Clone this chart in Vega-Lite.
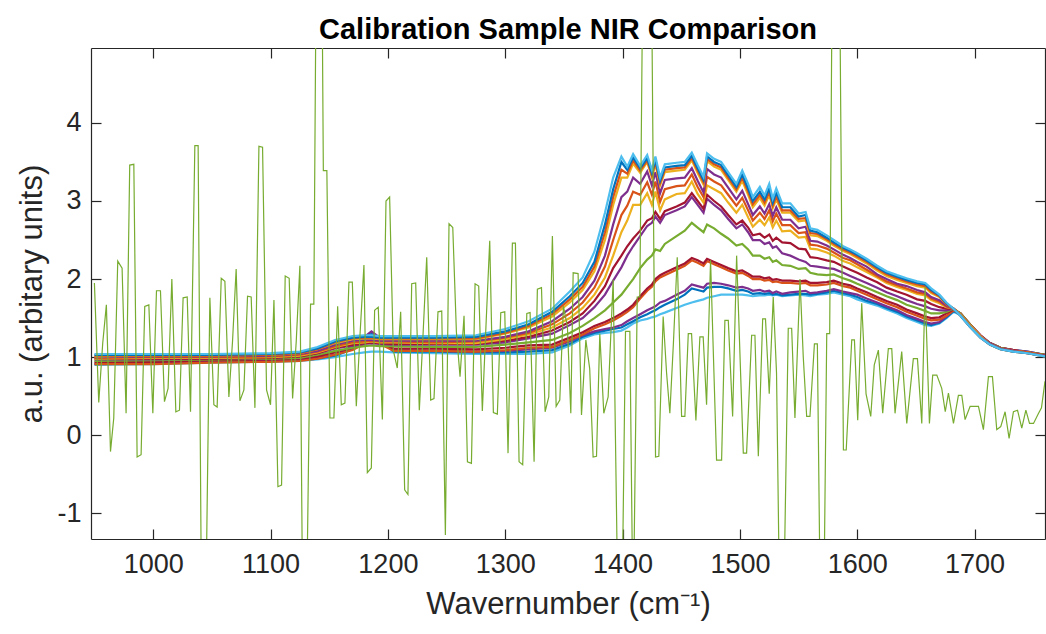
{
  "$schema": "https://vega.github.io/schema/vega-lite/v6.json",
  "width": 954,
  "height": 491,
  "autosize": {"type": "none"},
  "padding": {"left": 91, "top": 48, "right": 1, "bottom": 95},
  "background": "white",
  "config": {"view": {"stroke": null}, "font": "Liberation Sans"},
  "title": {"text": "Calibration Sample NIR Comparison", "fontSize": 29, "fontWeight": "bold", "font": "Liberation Sans", "color": "#000000", "anchor": "middle", "baseline": "alphabetic", "offset": 10, "dy": 31},
  "datasets": {
    "spec": [
      {"x":950,"T":1.04,"T2":1.03,"X1":1.02,"T3":1.01,"C":1.0,"C2":0.99,"D":0.98,"X2":0.98,"E":0.97,"F":0.95,"G":0.94,"X3":0.91,"H":0.92,"H2":0.91,"I":0.9},
      {"x":1000,"T":1.04,"T2":1.03,"X1":1.02,"T3":1.02,"C":1.01,"C2":1.0,"D":0.99,"X2":0.98,"E":0.97,"F":0.96,"G":0.94,"X3":0.91,"H":0.93,"H2":0.92,"I":0.91},
      {"x":1050,"T":1.04,"T2":1.03,"X1":1.02,"T3":1.02,"C":1.01,"C2":1.0,"D":0.99,"X2":0.98,"E":0.98,"F":0.97,"G":0.96,"X3":0.93,"H":0.95,"H2":0.94,"I":0.93},
      {"x":1100,"T":1.05,"T2":1.04,"X1":1.03,"T3":1.03,"C":1.02,"C2":1.01,"D":1.0,"X2":0.99,"E":0.99,"F":0.98,"G":0.97,"X3":0.94,"H":0.96,"H2":0.95,"I":0.94},
      {"x":1125,"T":1.07,"T2":1.06,"X1":1.05,"T3":1.05,"C":1.04,"C2":1.03,"D":1.02,"X2":1.01,"E":1.01,"F":0.99,"G":0.98,"X3":0.95,"H":0.97,"H2":0.96,"I":0.95},
      {"x":1140,"T":1.13,"T2":1.11,"X1":1.1,"T3":1.1,"C":1.08,"C2":1.07,"D":1.06,"X2":1.05,"E":1.05,"F":1.03,"G":1.01,"X3":0.98,"H":0.99,"H2":0.98,"I":0.97},
      {"x":1155,"T":1.22,"T2":1.2,"X1":1.19,"T3":1.18,"C":1.16,"C2":1.14,"D":1.13,"X2":1.12,"E":1.11,"F":1.08,"G":1.06,"X3":1.03,"H":1.03,"H2":1.02,"I":1.0},
      {"x":1170,"T":1.27,"T2":1.25,"X1":1.24,"T3":1.23,"C":1.21,"C2":1.19,"D":1.18,"X2":1.16,"E":1.15,"F":1.12,"G":1.12,"X3":1.09,"H":1.14,"H2":1.1,"I":1.04},
      {"x":1180,"T":1.28,"T2":1.26,"X1":1.25,"T3":1.24,"C":1.22,"C2":1.2,"D":1.19,"X2":1.18,"E":1.17,"F":1.14,"G":1.2,"X3":1.17,"H":1.26,"H2":1.22,"I":1.06},
      {"x":1186,"T":1.28,"T2":1.26,"X1":1.25,"T3":1.24,"C":1.22,"C2":1.21,"D":1.2,"X2":1.19,"E":1.18,"F":1.15,"G":1.27,"X3":1.24,"H":1.33,"H2":1.3,"I":1.07},
      {"x":1193,"T":1.27,"T2":1.25,"X1":1.24,"T3":1.23,"C":1.21,"C2":1.2,"D":1.19,"X2":1.18,"E":1.17,"F":1.14,"G":1.2,"X3":1.17,"H":1.25,"H2":1.22,"I":1.07},
      {"x":1205,"T":1.27,"T2":1.25,"X1":1.24,"T3":1.23,"C":1.21,"C2":1.2,"D":1.19,"X2":1.17,"E":1.16,"F":1.14,"G":1.11,"X3":1.08,"H":1.09,"H2":1.07,"I":1.06},
      {"x":1240,"T":1.27,"T2":1.25,"X1":1.24,"T3":1.23,"C":1.21,"C2":1.19,"D":1.18,"X2":1.17,"E":1.16,"F":1.13,"G":1.11,"X3":1.08,"H":1.08,"H2":1.07,"I":1.05},
      {"x":1275,"T":1.28,"T2":1.26,"X1":1.24,"T3":1.23,"C":1.21,"C2":1.2,"D":1.18,"X2":1.17,"E":1.16,"F":1.13,"G":1.1,"X3":1.07,"H":1.07,"H2":1.06,"I":1.04},
      {"x":1300,"T":1.36,"T2":1.33,"X1":1.31,"T3":1.3,"C":1.26,"C2":1.25,"D":1.23,"X2":1.21,"E":1.19,"F":1.16,"G":1.12,"X3":1.09,"H":1.08,"H2":1.06,"I":1.04},
      {"x":1320,"T":1.46,"T2":1.42,"X1":1.4,"T3":1.38,"C":1.33,"C2":1.31,"D":1.29,"X2":1.26,"E":1.24,"F":1.19,"G":1.15,"X3":1.12,"H":1.1,"H2":1.07,"I":1.04},
      {"x":1340,"T":1.62,"T2":1.58,"X1":1.55,"T3":1.52,"C":1.46,"C2":1.42,"D":1.38,"X2":1.34,"E":1.3,"F":1.22,"G":1.16,"X3":1.13,"H":1.12,"H2":1.09,"I":1.06},
      {"x":1355,"T":1.84,"T2":1.78,"X1":1.74,"T3":1.7,"C":1.62,"C2":1.56,"D":1.5,"X2":1.45,"E":1.41,"F":1.31,"G":1.25,"X3":1.22,"H":1.2,"H2":1.17,"I":1.15},
      {"x":1366,"T":2.02,"T2":1.95,"X1":1.9,"T3":1.86,"C":1.77,"C2":1.7,"D":1.63,"X2":1.56,"E":1.5,"F":1.4,"G":1.32,"X3":1.29,"H":1.28,"H2":1.26,"I":1.24},
      {"x":1376,"T":2.35,"T2":2.22,"X1":2.16,"T3":2.1,"C":1.98,"C2":1.89,"D":1.8,"X2":1.72,"E":1.64,"F":1.5,"G":1.4,"X3":1.37,"H":1.33,"H2":1.31,"I":1.29},
      {"x":1385,"T":2.85,"T2":2.7,"X1":2.6,"T3":2.5,"C":2.3,"C2":2.16,"D":2.02,"X2":1.91,"E":1.8,"F":1.6,"G":1.45,"X3":1.42,"H":1.36,"H2":1.34,"I":1.31},
      {"x":1392,"T":3.3,"T2":3.15,"X1":3.05,"T3":2.95,"C":2.7,"C2":2.5,"D":2.3,"X2":2.14,"E":1.98,"F":1.7,"G":1.5,"X3":1.47,"H":1.38,"H2":1.36,"I":1.32},
      {"x":1399,"T":3.57,"T2":3.5,"X1":3.4,"T3":3.3,"C":3.05,"C2":2.82,"D":2.6,"X2":2.3,"E":2.15,"F":1.8,"G":1.56,"X3":1.53,"H":1.41,"H2":1.38,"I":1.34},
      {"x":1404,"T":3.44,"T2":3.4,"X1":3.35,"T3":3.3,"C":3.12,"C2":2.94,"D":2.75,"X2":2.42,"E":2.3,"F":1.9,"G":1.61,"X3":1.58,"H":1.46,"H2":1.42,"I":1.38},
      {"x":1409,"T":3.6,"T2":3.56,"X1":3.52,"T3":3.48,"C":3.3,"C2":3.12,"D":2.95,"X2":2.52,"E":2.42,"F":2.0,"G":1.67,"X3":1.64,"H":1.5,"H2":1.46,"I":1.43},
      {"x":1415,"T":3.45,"T2":3.42,"X1":3.39,"T3":3.36,"C":3.22,"C2":3.08,"D":2.95,"X2":2.62,"E":2.55,"F":2.14,"G":1.78,"X3":1.75,"H":1.55,"H2":1.51,"I":1.47},
      {"x":1421,"T":3.59,"T2":3.55,"X1":3.52,"T3":3.5,"C":3.38,"C2":3.24,"D":3.1,"X2":2.75,"E":2.68,"F":2.25,"G":1.88,"X3":1.85,"H":1.6,"H2":1.55,"I":1.49},
      {"x":1425,"T":3.4,"T2":3.36,"X1":3.33,"T3":3.3,"C":3.2,"C2":3.08,"D":2.95,"X2":2.78,"E":2.72,"F":2.3,"G":1.93,"X3":1.9,"H":1.63,"H2":1.58,"I":1.51},
      {"x":1428,"T":3.57,"T2":3.53,"X1":3.5,"T3":3.47,"C":3.37,"C2":3.25,"D":3.12,"X2":2.86,"E":2.8,"F":2.38,"G":2.0,"X3":1.97,"H":1.65,"H2":1.6,"I":1.52},
      {"x":1432,"T":3.3,"T2":3.26,"X1":3.23,"T3":3.2,"C":3.1,"C2":2.99,"D":2.88,"X2":2.77,"E":2.72,"F":2.36,"G":2.05,"X3":2.02,"H":1.7,"H2":1.64,"I":1.55},
      {"x":1436,"T":3.47,"T2":3.43,"X1":3.4,"T3":3.37,"C":3.27,"C2":3.15,"D":3.02,"X2":2.87,"E":2.82,"F":2.45,"G":2.08,"X3":2.05,"H":1.72,"H2":1.67,"I":1.57},
      {"x":1446,"T":3.49,"T2":3.45,"X1":3.42,"T3":3.39,"C":3.29,"C2":3.19,"D":3.09,"X2":2.93,"E":2.88,"F":2.55,"G":2.15,"X3":2.12,"H":1.8,"H2":1.74,"I":1.63},
      {"x":1453,"T":3.5,"T2":3.46,"X1":3.43,"T3":3.4,"C":3.3,"C2":3.2,"D":3.1,"X2":2.98,"E":2.93,"F":2.62,"G":2.2,"X3":2.17,"H":1.85,"H2":1.8,"I":1.67},
      {"x":1459,"T":3.62,"T2":3.58,"X1":3.55,"T3":3.52,"C":3.42,"C2":3.34,"D":3.25,"X2":3.1,"E":3.05,"F":2.72,"G":2.27,"X3":2.24,"H":1.93,"H2":1.88,"I":1.7},
      {"x":1464,"T":3.46,"T2":3.42,"X1":3.39,"T3":3.36,"C":3.26,"C2":3.18,"D":3.09,"X2":3.0,"E":2.95,"F":2.66,"G":2.24,"X3":2.21,"H":1.91,"H2":1.86,"I":1.72},
      {"x":1469,"T":3.31,"T2":3.27,"X1":3.24,"T3":3.21,"C":3.11,"C2":3.05,"D":2.98,"X2":2.9,"E":2.85,"F":2.6,"G":2.2,"X3":2.17,"H":1.89,"H2":1.84,"I":1.74},
      {"x":1472,"T":3.61,"T2":3.57,"X1":3.54,"T3":3.51,"C":3.41,"C2":3.31,"D":3.2,"X2":3.08,"E":3.03,"F":2.7,"G":2.26,"X3":2.23,"H":1.94,"H2":1.89,"I":1.76},
      {"x":1478,"T":3.54,"T2":3.5,"X1":3.47,"T3":3.44,"C":3.34,"C2":3.25,"D":3.15,"X2":3.0,"E":2.95,"F":2.65,"G":2.22,"X3":2.19,"H":1.95,"H2":1.9,"I":1.78},
      {"x":1484,"T":3.5,"T2":3.46,"X1":3.43,"T3":3.4,"C":3.3,"C2":3.2,"D":3.1,"X2":2.93,"E":2.88,"F":2.58,"G":2.18,"X3":2.15,"H":1.94,"H2":1.9,"I":1.8},
      {"x":1490,"T":3.37,"T2":3.33,"X1":3.3,"T3":3.27,"C":3.17,"C2":3.08,"D":2.98,"X2":2.82,"E":2.77,"F":2.52,"G":2.14,"X3":2.11,"H":1.92,"H2":1.88,"I":1.8},
      {"x":1497,"T":3.22,"T2":3.18,"X1":3.15,"T3":3.12,"C":3.02,"C2":2.94,"D":2.85,"X2":2.7,"E":2.65,"F":2.43,"G":2.1,"X3":2.07,"H":1.89,"H2":1.85,"I":1.8},
      {"x":1502,"T":3.39,"T2":3.34,"X1":3.3,"T3":3.26,"C":3.13,"C2":3.04,"D":2.95,"X2":2.75,"E":2.7,"F":2.45,"G":2.11,"X3":2.08,"H":1.9,"H2":1.86,"I":1.8},
      {"x":1507,"T":3.22,"T2":3.16,"X1":3.12,"T3":3.08,"C":2.96,"C2":2.88,"D":2.79,"X2":2.66,"E":2.6,"F":2.38,"G":2.07,"X3":2.04,"H":1.88,"H2":1.84,"I":1.79},
      {"x":1511,"T":3.05,"T2":3.0,"X1":2.96,"T3":2.92,"C":2.82,"C2":2.75,"D":2.67,"X2":2.56,"E":2.5,"F":2.3,"G":2.03,"X3":2.0,"H":1.85,"H2":1.81,"I":1.78},
      {"x":1517,"T":3.18,"T2":3.12,"X1":3.08,"T3":3.04,"C":2.93,"C2":2.85,"D":2.76,"X2":2.58,"E":2.5,"F":2.3,"G":2.03,"X3":2.0,"H":1.86,"H2":1.82,"I":1.79},
      {"x":1521,"T":3.07,"T2":3.02,"X1":2.98,"T3":2.94,"C":2.84,"C2":2.77,"D":2.69,"X2":2.53,"E":2.45,"F":2.26,"G":2.01,"X3":1.98,"H":1.84,"H2":1.81,"I":1.79},
      {"x":1525,"T":3.22,"T2":3.16,"X1":3.12,"T3":3.08,"C":2.96,"C2":2.88,"D":2.79,"X2":2.57,"E":2.47,"F":2.28,"G":2.02,"X3":1.99,"H":1.85,"H2":1.82,"I":1.8},
      {"x":1528,"T":3.03,"T2":2.98,"X1":2.94,"T3":2.91,"C":2.81,"C2":2.74,"D":2.66,"X2":2.49,"E":2.4,"F":2.22,"G":1.99,"X3":1.96,"H":1.82,"H2":1.8,"I":1.79},
      {"x":1531,"T":3.16,"T2":3.11,"X1":3.06,"T3":3.02,"C":2.92,"C2":2.84,"D":2.75,"X2":2.53,"E":2.42,"F":2.24,"G":2.0,"X3":1.97,"H":1.84,"H2":1.81,"I":1.8},
      {"x":1536,"T":2.97,"T2":2.92,"X1":2.88,"T3":2.85,"C":2.76,"C2":2.69,"D":2.61,"X2":2.47,"E":2.33,"F":2.18,"G":1.98,"X3":1.95,"H":1.81,"H2":1.79,"I":1.78},
      {"x":1543,"T":2.97,"T2":2.92,"X1":2.88,"T3":2.85,"C":2.76,"C2":2.69,"D":2.62,"X2":2.46,"E":2.3,"F":2.17,"G":1.98,"X3":1.95,"H":1.83,"H2":1.8,"I":1.79},
      {"x":1550,"T":2.84,"T2":2.8,"X1":2.77,"T3":2.74,"C":2.65,"C2":2.59,"D":2.53,"X2":2.39,"E":2.25,"F":2.13,"G":1.97,"X3":1.94,"H":1.84,"H2":1.81,"I":1.8},
      {"x":1556,"T":2.86,"T2":2.82,"X1":2.78,"T3":2.75,"C":2.67,"C2":2.6,"D":2.54,"X2":2.38,"E":2.22,"F":2.14,"G":1.98,"X3":1.95,"H":1.85,"H2":1.81,"I":1.79},
      {"x":1560,"T":2.65,"T2":2.62,"X1":2.59,"T3":2.56,"C":2.49,"C2":2.44,"D":2.39,"X2":2.28,"E":2.17,"F":2.08,"G":1.95,"X3":1.92,"H":1.82,"H2":1.8,"I":1.78},
      {"x":1566,"T":2.63,"T2":2.6,"X1":2.58,"T3":2.55,"C":2.48,"C2":2.43,"D":2.38,"X2":2.27,"E":2.16,"F":2.06,"G":1.95,"X3":1.92,"H":1.83,"H2":1.81,"I":1.8},
      {"x":1574,"T":2.56,"T2":2.53,"X1":2.51,"T3":2.49,"C":2.43,"C2":2.39,"D":2.34,"X2":2.24,"E":2.14,"F":2.05,"G":1.96,"X3":1.93,"H":1.85,"H2":1.83,"I":1.81},
      {"x":1580,"T":2.5,"T2":2.47,"X1":2.45,"T3":2.43,"C":2.38,"C2":2.34,"D":2.3,"X2":2.22,"E":2.13,"F":2.06,"G":1.98,"X3":1.95,"H":1.87,"H2":1.85,"I":1.83},
      {"x":1588,"T":2.42,"T2":2.4,"X1":2.38,"T3":2.36,"C":2.31,"C2":2.27,"D":2.23,"X2":2.16,"E":2.08,"F":2.01,"G":1.94,"X3":1.91,"H":1.84,"H2":1.82,"I":1.8},
      {"x":1594,"T":2.38,"T2":2.36,"X1":2.34,"T3":2.32,"C":2.27,"C2":2.24,"D":2.2,"X2":2.12,"E":2.04,"F":1.98,"G":1.92,"X3":1.89,"H":1.82,"H2":1.8,"I":1.78},
      {"x":1600,"T":2.33,"T2":2.31,"X1":2.29,"T3":2.27,"C":2.22,"C2":2.19,"D":2.15,"X2":2.08,"E":2.0,"F":1.94,"G":1.88,"X3":1.85,"H":1.8,"H2":1.77,"I":1.74},
      {"x":1608,"T":2.26,"T2":2.24,"X1":2.22,"T3":2.2,"C":2.16,"C2":2.12,"D":2.09,"X2":2.02,"E":1.95,"F":1.89,"G":1.83,"X3":1.8,"H":1.75,"H2":1.72,"I":1.7},
      {"x":1617,"T":2.17,"T2":2.15,"X1":2.13,"T3":2.11,"C":2.06,"C2":2.04,"D":2.02,"X2":1.96,"E":1.89,"F":1.83,"G":1.77,"X3":1.74,"H":1.7,"H2":1.68,"I":1.66},
      {"x":1625,"T":2.1,"T2":2.08,"X1":2.06,"T3":2.04,"C":2.0,"C2":1.97,"D":1.95,"X2":1.89,"E":1.83,"F":1.78,"G":1.72,"X3":1.69,"H":1.65,"H2":1.63,"I":1.61},
      {"x":1634,"T":2.05,"T2":2.03,"X1":2.01,"T3":1.99,"C":1.94,"C2":1.92,"D":1.9,"X2":1.84,"E":1.78,"F":1.73,"G":1.67,"X3":1.64,"H":1.6,"H2":1.58,"I":1.56},
      {"x":1642,"T":2.01,"T2":1.99,"X1":1.97,"T3":1.95,"C":1.91,"C2":1.88,"D":1.86,"X2":1.8,"E":1.73,"F":1.67,"G":1.61,"X3":1.58,"H":1.54,"H2":1.52,"I":1.5},
      {"x":1651,"T":1.97,"T2":1.95,"X1":1.93,"T3":1.91,"C":1.86,"C2":1.83,"D":1.81,"X2":1.74,"E":1.68,"F":1.63,"G":1.56,"X3":1.53,"H":1.49,"H2":1.47,"I":1.45},
      {"x":1658,"T":1.95,"T2":1.93,"X1":1.91,"T3":1.89,"C":1.83,"C2":1.81,"D":1.79,"X2":1.72,"E":1.65,"F":1.59,"G":1.52,"X3":1.49,"H":1.45,"H2":1.43,"I":1.41},
      {"x":1663,"T":1.88,"T2":1.86,"X1":1.84,"T3":1.82,"C":1.77,"C2":1.75,"D":1.73,"X2":1.68,"E":1.62,"F":1.56,"G":1.5,"X3":1.47,"H":1.43,"H2":1.41,"I":1.4},
      {"x":1670,"T":1.8,"T2":1.79,"X1":1.78,"T3":1.77,"C":1.73,"C2":1.71,"D":1.69,"X2":1.64,"E":1.6,"F":1.56,"G":1.51,"X3":1.48,"H":1.45,"H2":1.44,"I":1.43},
      {"x":1676,"T":1.7,"T2":1.69,"X1":1.68,"T3":1.68,"C":1.66,"C2":1.65,"D":1.64,"X2":1.62,"E":1.6,"F":1.58,"G":1.56,"X3":1.53,"H":1.52,"H2":1.51,"I":1.5},
      {"x":1682,"T":1.62,"T2":1.62,"X1":1.62,"T3":1.62,"C":1.62,"C2":1.62,"D":1.62,"X2":1.62,"E":1.62,"F":1.62,"G":1.61,"X3":1.6,"H":1.6,"H2":1.59,"I":1.58},
      {"x":1688,"T":1.53,"T2":1.53,"X1":1.53,"T3":1.54,"C":1.54,"C2":1.54,"D":1.55,"X2":1.55,"E":1.55,"F":1.56,"G":1.56,"X3":1.56,"H":1.56,"H2":1.55,"I":1.54},
      {"x":1696,"T":1.39,"T2":1.39,"X1":1.39,"T3":1.4,"C":1.4,"C2":1.4,"D":1.41,"X2":1.41,"E":1.41,"F":1.42,"G":1.42,"X3":1.42,"H":1.42,"H2":1.41,"I":1.4},
      {"x":1705,"T":1.25,"T2":1.25,"X1":1.25,"T3":1.26,"C":1.26,"C2":1.26,"D":1.27,"X2":1.27,"E":1.27,"F":1.27,"G":1.28,"X3":1.27,"H":1.28,"H2":1.27,"I":1.26},
      {"x":1713,"T":1.16,"T2":1.16,"X1":1.16,"T3":1.16,"C":1.17,"C2":1.17,"D":1.17,"X2":1.17,"E":1.18,"F":1.18,"G":1.18,"X3":1.18,"H":1.18,"H2":1.18,"I":1.17},
      {"x":1722,"T":1.1,"T2":1.1,"X1":1.1,"T3":1.1,"C":1.11,"C2":1.11,"D":1.11,"X2":1.11,"E":1.11,"F":1.12,"G":1.12,"X3":1.12,"H":1.12,"H2":1.12,"I":1.11},
      {"x":1733,"T":1.07,"T2":1.07,"X1":1.07,"T3":1.07,"C":1.08,"C2":1.08,"D":1.08,"X2":1.08,"E":1.08,"F":1.08,"G":1.09,"X3":1.09,"H":1.09,"H2":1.09,"I":1.08},
      {"x":1745,"T":1.05,"T2":1.05,"X1":1.05,"T3":1.05,"C":1.05,"C2":1.06,"D":1.06,"X2":1.06,"E":1.06,"F":1.06,"G":1.06,"X3":1.06,"H":1.07,"H2":1.07,"I":1.06},
      {"x":1760,"T":1.01,"T2":1.01,"X1":1.01,"T3":1.01,"C":1.02,"C2":1.02,"D":1.02,"X2":1.02,"E":1.02,"F":1.03,"G":1.03,"X3":1.03,"H":1.03,"H2":1.03,"I":1.02}
    ],
    "noise": [
      {"x":949.9,"v":1.95},{"x":953.6,"v":0.42},{"x":957,"v":1.18},{"x":960.1,"v":1.67},{"x":963.6,"v":-0.21},{"x":966.4,"v":0.22},{"x":969.8,"v":2.23},{"x":973.5,"v":2.14},{"x":976.9,"v":0.28},{"x":980,"v":3.46},{"x":983.5,"v":3.47},{"x":986.3,"v":-0.28},{"x":989.7,"v":-0.25},{"x":992.8,"v":1.65},{"x":996.3,"v":1.67},{"x":999.7,"v":0.28},{"x":1002.8,"v":1.85},{"x":1006.2,"v":1.85},{"x":1009.6,"v":0.43},{"x":1012.7,"v":0.6},{"x":1015.9,"v":2.0},{"x":1019.3,"v":0.3},{"x":1022.4,"v":0.32},{"x":1025.5,"v":1.76},{"x":1029,"v":1.77},{"x":1031.8,"v":0.3},{"x":1035.5,"v":3.71},{"x":1038.3,"v":3.71},{"x":1041.3,"v":-2.5},{"x":1044.6,"v":-2.5},{"x":1048.3,"v":1.76},{"x":1051.7,"v":0.39},{"x":1054.5,"v":0.36},{"x":1058,"v":2.01},{"x":1061.1,"v":1.97},{"x":1064.5,"v":0.49},{"x":1067.6,"v":1.2},{"x":1070.7,"v":2.13},{"x":1073.9,"v":0.44},{"x":1077.3,"v":0.58},{"x":1080.4,"v":1.78},{"x":1083.5,"v":1.77},{"x":1086.7,"v":0.35},{"x":1090.1,"v":3.7},{"x":1093.2,"v":3.69},{"x":1096.6,"v":0.58},{"x":1100,"v":0.39},{"x":1102.9,"v":1.73},{"x":1106.3,"v":-0.66},{"x":1109.4,"v":-0.64},{"x":1112.5,"v":2.04},{"x":1115.9,"v":2.01},{"x":1118.8,"v":0.47},{"x":1121.9,"v":1.2},{"x":1125,"v":2.17},{"x":1127.5,"v":-2.5},{"x":1130.5,"v":-2.5},{"x":1134.1,"v":1.68},{"x":1136.9,"v":1.68},{"x":1139.8,"v":8},{"x":1142.9,"v":8},{"x":1145,"v":3.39},{"x":1148,"v":3.39},{"x":1150.6,"v":0.22},{"x":1154,"v":0.22},{"x":1157.2,"v":1.65},{"x":1160.3,"v":0.39},{"x":1163.4,"v":0.41},{"x":1166.8,"v":1.96},{"x":1169.7,"v":1.96},{"x":1173.1,"v":0.37},{"x":1176.3,"v":1.3},{"x":1179.6,"v":2.18},{"x":1182.5,"v":-0.48},{"x":1185.9,"v":-0.42},{"x":1188.7,"v":1.6},{"x":1191.8,"v":1.64},{"x":1195.3,"v":0.2},{"x":1198.4,"v":3.0},{"x":1201.5,"v":3.05},{"x":1204.6,"v":1.09},{"x":1208,"v":0.86},{"x":1210.9,"v":1.58},{"x":1214.3,"v":-0.7},{"x":1217.1,"v":-0.76},{"x":1220.3,"v":1.94},{"x":1223.7,"v":1.95},{"x":1226.8,"v":0.32},{"x":1230,"v":1.3},{"x":1233.1,"v":2.28},{"x":1236.5,"v":0.45},{"x":1239.3,"v":0.47},{"x":1242.7,"v":1.58},{"x":1245.9,"v":1.59},{"x":1249,"v":-1.28},{"x":1252.1,"v":2.71},{"x":1255.3,"v":2.66},{"x":1258.4,"v":1.32},{"x":1261.5,"v":0.75},{"x":1264.9,"v":1.53},{"x":1267.8,"v":-0.34},{"x":1271.2,"v":-0.36},{"x":1274.3,"v":1.94},{"x":1277.4,"v":1.91},{"x":1280.5,"v":0.31},{"x":1283.6,"v":1.4},{"x":1286.8,"v":2.49},{"x":1289.9,"v":0.29},{"x":1293.3,"v":0.27},{"x":1296.2,"v":1.57},{"x":1299.6,"v":1.58},{"x":1302.4,"v":-0.23},{"x":1306.1,"v":2.46},{"x":1308.7,"v":2.46},{"x":1311.8,"v":-0.34},{"x":1314.9,"v":-0.38},{"x":1318.4,"v":1.56},{"x":1321.2,"v":1.57},{"x":1324.6,"v":-0.34},{"x":1327.4,"v":1.87},{"x":1330.9,"v":1.89},{"x":1334,"v":0.3},{"x":1337.1,"v":0.49},{"x":1340.2,"v":2.55},{"x":1343.4,"v":0.37},{"x":1346.5,"v":0.45},{"x":1349.6,"v":1.65},{"x":1353,"v":1.39},{"x":1355.9,"v":0.28},
      {"x":1357.9,"v":2.08},{"x":1362.1,"v":2.07},{"x":1365,"v":0.26},{"x":1368.7,"v":1.22},{"x":1372,"v":0.85},{"x":1374.9,"v":-0.28},{"x":1377.8,"v":-0.27},{"x":1380.6,"v":1.3},{"x":1384,"v":0.28},{"x":1387.7,"v":0.49},{"x":1392,"v":1.99},{"x":1396.3,"v":-2.5},{"x":1399.3,"v":-2.5},{"x":1402.5,"v":1.33},{"x":1406.2,"v":1.33},{"x":1409,"v":-2.5},{"x":1412.5,"v":1.77},{"x":1414.7,"v":1.77},{"x":1418.5,"v":8},{"x":1423.5,"v":8},{"x":1428.1,"v":-0.28},{"x":1430.9,"v":-0.27},{"x":1434.6,"v":1.52},{"x":1437.5,"v":0.8},{"x":1440.3,"v":0.28},{"x":1443.4,"v":1.2},{"x":1446.6,"v":2.28},{"x":1450.3,"v":0.24},{"x":1453.1,"v":0.24},{"x":1456,"v":1.3},{"x":1458.8,"v":1.3},{"x":1462.5,"v":0.19},{"x":1465.9,"v":1.26},{"x":1468.7,"v":1.26},{"x":1471.6,"v":0.39},{"x":1475,"v":2.24},{"x":1480.1,"v":-0.32},{"x":1484.4,"v":-0.32},{"x":1487.2,"v":1.47},{"x":1490.1,"v":1.47},{"x":1493.8,"v":0.24},{"x":1497.2,"v":2.3},{"x":1502.9,"v":-0.23},{"x":1505.7,"v":-0.23},{"x":1510,"v":1.28},{"x":1512.8,"v":1.28},{"x":1515.7,"v":-0.27},{"x":1519.4,"v":1.49},{"x":1521.8,"v":1.49},{"x":1525,"v":0.53},{"x":1528.4,"v":1.77},{"x":1531.2,"v":0.8},{"x":1534.1,"v":-2.5},{"x":1537,"v":-2.5},{"x":1541.2,"v":1.37},{"x":1544.1,"v":1.37},{"x":1546.9,"v":0.22},{"x":1551.2,"v":2.0},{"x":1554,"v":1.0},{"x":1556.9,"v":0.24},{"x":1559.7,"v":0.24},{"x":1563.5,"v":1.17},{"x":1566,"v":1.17},{"x":1568.7,"v":-2.5},{"x":1571.3,"v":-2.5},{"x":1574,"v":1.3},{"x":1576.5,"v":1.3},{"x":1579.6,"v":8},{"x":1583.9,"v":8},{"x":1588.2,"v":-0.19},{"x":1590.6,"v":-0.19},{"x":1595.3,"v":1.22},{"x":1597.6,"v":1.22},{"x":1600.4,"v":0.19},{"x":1603.8,"v":1.69},{"x":1607.5,"v":0.53},{"x":1611.5,"v":0.24},{"x":1614.5,"v":0.9},{"x":1618,"v":1.09},{"x":1621.7,"v":0.28},{"x":1626.5,"v":1.11},{"x":1629.4,"v":1.11},{"x":1632.2,"v":0.28},{"x":1637.9,"v":1.07},{"x":1642.2,"v":0.15},{"x":1647.8,"v":0.98},{"x":1651.3,"v":0.98},{"x":1655,"v":0.15},{"x":1657.8,"v":1.9},{"x":1661.5,"v":0.15},{"x":1664.3,"v":0.77},{"x":1667.8,"v":0.77},{"x":1672,"v":0.6},{"x":1675,"v":0.3},{"x":1677.7,"v":0.54},{"x":1682,"v":0.15},{"x":1686.2,"v":0.51},{"x":1689.1,"v":0.51},{"x":1691.9,"v":0.2},{"x":1696.2,"v":0.37},{"x":1700.4,"v":0.37},{"x":1703.3,"v":0.37},{"x":1707.5,"v":0.07},{"x":1711.8,"v":0.75},{"x":1715.2,"v":0.75},{"x":1718.9,"v":0.07},{"x":1722.3,"v":0.11},{"x":1726,"v":0.3},{"x":1729.4,"v":-0.04},{"x":1733.1,"v":0.3},{"x":1736.6,"v":0.32},{"x":1740.2,"v":0.09},{"x":1743.7,"v":0.32},{"x":1746.8,"v":0.15},{"x":1750.2,"v":0.15},{"x":1754.5,"v":0.28},{"x":1757,"v":0.35},{"x":1760,"v":0.69}
    ]
  },
  "layer": [
    {
      "data": {"name": "spec"},
      "transform": [{"fold": ["I","H2","H","X3","G","F","E","X2","D","C2","C","T3","X1","T2","T"], "as": ["sample","value"]}],
      "mark": {"type": "line", "strokeWidth": 2.2, "clip": true},
      "encoding": {
        "x": {"field": "x", "type": "quantitative", "scale": {"domain": [947, 1760], "nice": false, "zero": false},
              "axis": {"orient": "top", "labels": false, "title": null, "grid": false, "values": [1000,1100,1200,1300,1400,1500,1600,1700], "tickSize": -10, "tickColor": "#262626", "domainColor": "#262626", "domainWidth": 1.2, "tickWidth": 1.2}},
        "y": {"field": "value", "type": "quantitative", "scale": {"domain": [-1.33, 4.96], "nice": false, "zero": false},
              "axis": {"orient": "right", "labels": false, "title": null, "grid": false, "values": [-1,0,1,2,3,4], "tickSize": -10, "tickColor": "#262626", "domainColor": "#262626", "domainWidth": 1.2, "tickWidth": 1.2}},
        "color": {"field": "sample", "type": "nominal", "legend": null,
                  "scale": {"domain": ["I","H2","H","X3","G","F","E","X2","D","C2","C","T3","X1","T2","T"],
                            "range": ["#4DBEEE","#0072BD","#7E2F8E","#D95319","#A2142F","#77AC30","#7E2F8E","#A2142F","#EDB120","#D95319","#7E2F8E","#EDB120","#D95319","#0072BD","#4DBEEE"]}}
      }
    },
    {
      "data": {"name": "noise"},
      "mark": {"type": "line", "strokeWidth": 1.2, "color": "#77AC30", "clip": true},
      "encoding": {
        "x": {"field": "x", "type": "quantitative", "scale": {"domain": [947, 1760], "nice": false, "zero": false},
              "axis": {"orient": "bottom", "title": "Wavernumber (cm⁻¹)", "grid": false, "values": [1000,1100,1200,1300,1400,1500,1600,1700], "labelExpr": "'' + datum.value", "tickSize": -10, "tickColor": "#262626", "domainColor": "#262626", "domainWidth": 1.2, "tickWidth": 1.2, "labelFontSize": 27, "labelColor": "#262626", "labelFont": "Liberation Sans", "labelPadding": 22, "titleFontSize": 31, "titleFontWeight": "normal", "titleColor": "#262626", "titleFont": "Liberation Sans", "titlePadding": 12}},
        "y": {"field": "v", "type": "quantitative", "scale": {"domain": [-1.33, 4.96], "nice": false, "zero": false},
              "axis": {"orient": "left", "title": "a.u. (arbitary units)", "grid": false, "values": [-1,0,1,2,3,4], "labelExpr": "'' + datum.value", "tickSize": -10, "tickColor": "#262626", "domainColor": "#262626", "domainWidth": 1.2, "tickWidth": 1.2, "labelFontSize": 27, "labelColor": "#262626", "labelFont": "Liberation Sans", "labelPadding": 20, "titleFontSize": 31, "titleFontWeight": "normal", "titleColor": "#262626", "titleFont": "Liberation Sans", "titlePadding": 8}}
      }
    }
  ],
  "resolve": {"axis": {"x": "independent", "y": "independent"}}
}
